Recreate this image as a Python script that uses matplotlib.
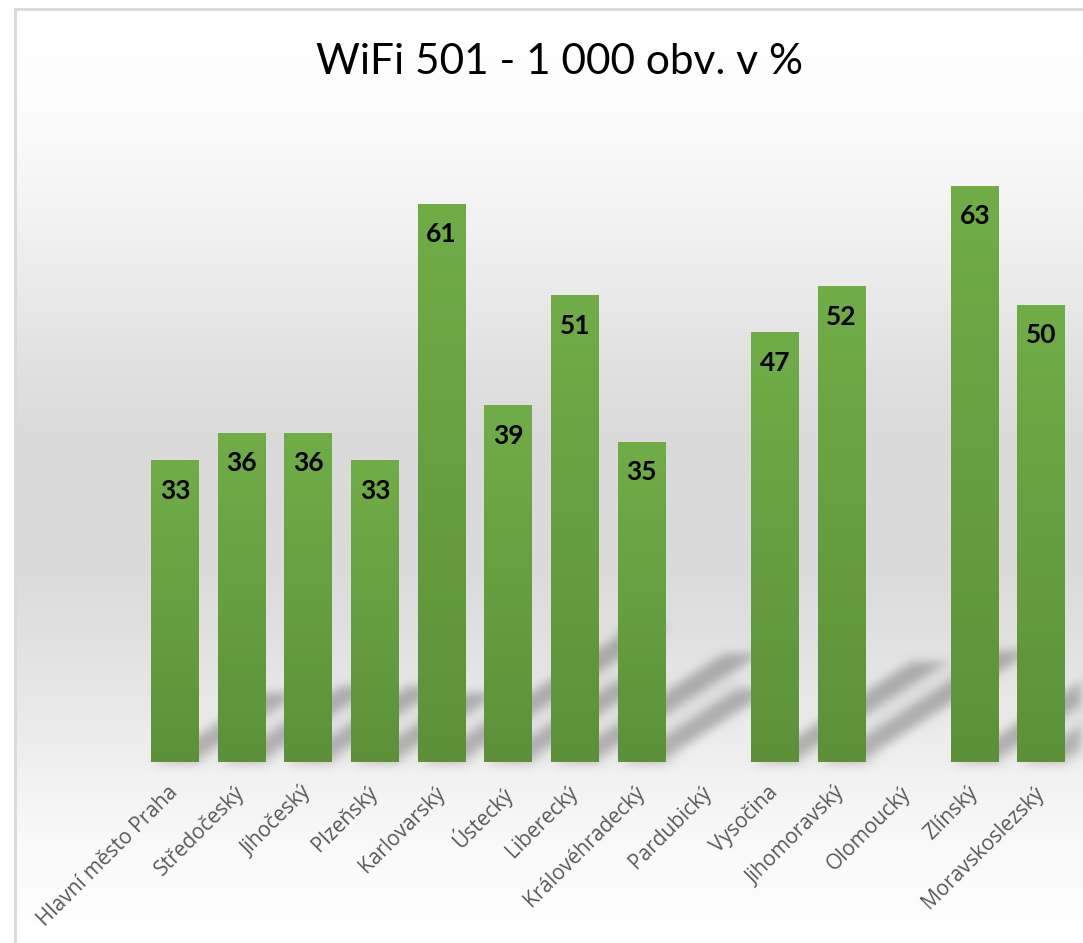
import numpy as np
import matplotlib
matplotlib.use("Agg")
import matplotlib.pyplot as plt
from matplotlib.colors import LinearSegmentedColormap
from matplotlib.collections import PolyCollection

# Data
regions = ["Hlavní město Praha", "Středočeský", "Jihočeský", "Plzeňský", "Karlovarský",
           "Ústecký", "Liberecký", "Královéhradecký", "Pardubický", "Vysočina",
           "Jihomoravský", "Olomoucký", "Zlínský", "Moravskoslezský"]
values = [33, 36, 36, 33, 61, 39, 51, 35, None, 47, 52, None, 63, 50]
title = "WiFi 501 - 1 000 obv. v %"

W, H = 1083, 943
fig = plt.figure(figsize=(W / 100, H / 100), dpi=100)

# chart area background (gradient) + border
bg = fig.add_axes([0, 0, 1, 1])
bg.set_xlim(0, W)
bg.set_ylim(H, 0)
bg.axis("off")
stops_y = [9, 100, 180, 260, 380, 450, 560, 630, 700, 770, 850, 943]
stops_g = [255, 253, 246, 238, 223, 218, 218, 224, 232, 241, 250, 255]
yy = np.arange(9, H + 1)
gray = np.interp(yy, stops_y, stops_g) / 255.0
img = np.repeat(gray[:, None, None], 3, axis=2)
bg.imshow(img, extent=(15, W, H, 9), aspect="auto", interpolation="bilinear", zorder=0)
bg.plot([15, 15], [H, 9], color="#d9d9d9", lw=2, zorder=1)
bg.plot([15, W], [9, 9], color="#d9d9d9", lw=2, zorder=1)
bg.text(560, 62, title, ha="center", va="center", fontsize=30.5,
        family=["Lato", "DejaVu Sans"], color="#000000")

# main axes
ax = fig.add_axes([141.7 / W, 1 - 762 / H, 933.1 / W, 640.5 / H])
ax.patch.set_alpha(0)
for s in ax.spines.values():
    s.set_visible(False)

x = np.arange(len(regions))
mask = np.array([v is not None for v in values])
xs = x[mask]
vs = np.array([v for v in values if v is not None], dtype=float)
bw = 0.72


# blurred perspective shadows
def blur_filter(im, dpi, sigma=4.5):
    pad = int(3 * sigma)
    a = np.pad(im, ((pad, pad), (pad, pad), (0, 0)))
    k = np.exp(-0.5 * (np.arange(-pad, pad + 1) / sigma) ** 2)
    k /= k.sum()
    h, w = a.shape[:2]
    b = np.pad(a, ((0, 0), (pad, pad), (0, 0)))
    out = np.zeros_like(a)
    for i, kv in enumerate(k):
        out += kv * b[:, i:i + w]
    c = np.pad(out, ((pad, pad), (0, 0), (0, 0)))
    out2 = np.zeros_like(a)
    for i, kv in enumerate(k):
        out2 += kv * c[i:i + h]
    return out2, -pad, -pad


sh_h = 0.24
sh_k = 0.051
polys = []
for xi, v in zip(xs, vs):
    x0, x1 = xi - bw / 2, xi + bw / 2
    d = sh_k * v
    polys.append([(x0, 0), (x1, 0), (x1 + d, sh_h * v), (x0 + d, sh_h * v)])
shadows = PolyCollection(polys, facecolors="#000000", edgecolors="none",
                         alpha=0.27, zorder=1, clip_on=False)
shadows.set_agg_filter(blur_filter)
ax.add_collection(shadows)

# bars with vertical gradient
bars = ax.bar(xs, vs, width=bw, color="#66a040", zorder=2)
cmap = LinearSegmentedColormap.from_list("g", ["#5c9139", "#70ad47"])
grad = np.linspace(0, 1, 256)[:, None]
for b in bars:
    im = ax.imshow(grad, cmap=cmap, origin="lower", aspect="auto", zorder=3,
                   extent=(b.get_x(), b.get_x() + b.get_width(), 0, b.get_height()))
    im.set_clip_path(b)

for xi, v in zip(xs, vs):
    ax.annotate(f"{v:.0f}", (xi, v), xytext=(0, -22), textcoords="offset points",
                ha="center", va="center", fontsize=19, fontweight="bold",
                family=["Lato", "DejaVu Sans"], color="#000000", zorder=4)

ax.set_xlim(-0.5, len(regions) - 0.5)
ax.set_ylim(0, 70)
ax.set_yticks([])
ax.set_xticks(x)
ax.set_xticklabels(regions, rotation=45, ha="right", va="center", rotation_mode="anchor",
                   fontsize=15, family=["Open Sans", "DejaVu Sans"], color="#595959")
ax.tick_params(axis="x", length=0, pad=20)

fig.savefig("out.png", dpi=100)
